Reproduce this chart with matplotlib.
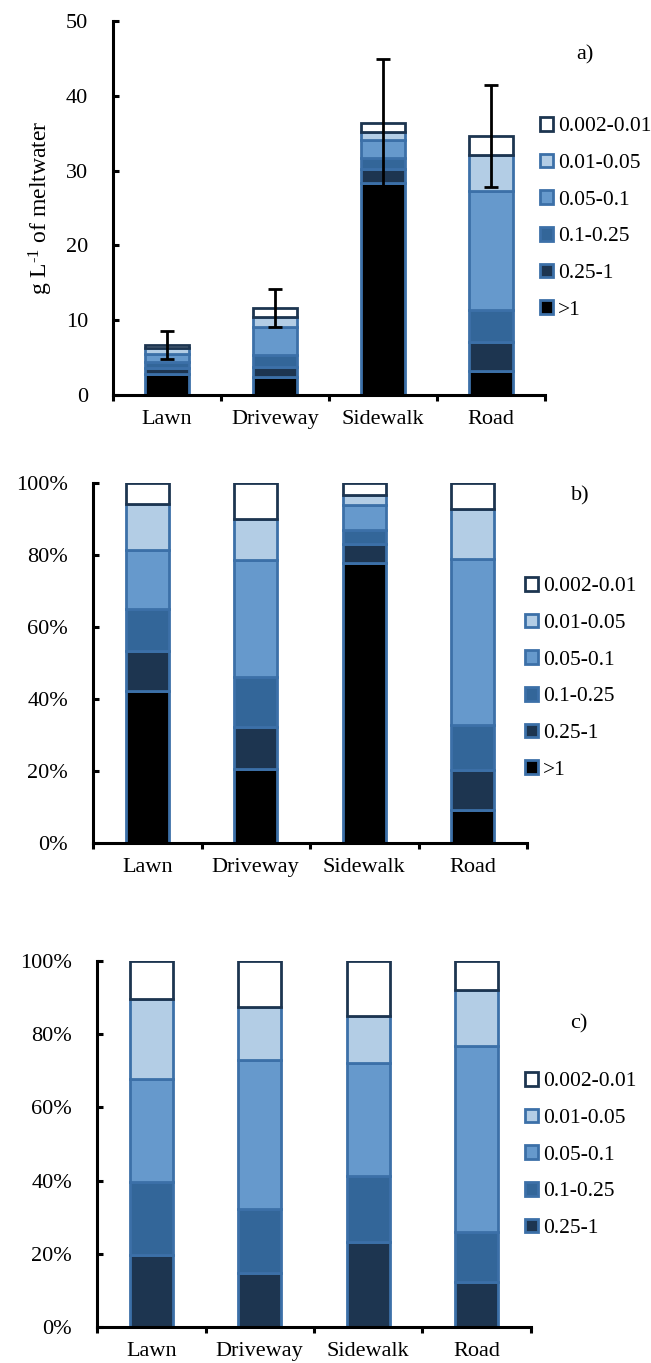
import numpy as np
import matplotlib
matplotlib.use('Agg')
import matplotlib.pyplot as plt
from matplotlib.patches import Patch
from matplotlib.ticker import FuncFormatter

plt.rcParams['font.family'] = ['Liberation Serif', 'DejaVu Serif']
plt.rcParams['mathtext.fontset'] = 'custom'
plt.rcParams['mathtext.rm'] = 'Liberation Serif'
plt.rcParams['mathtext.default'] = 'regular'

sites = ['Lawn', 'Driveway', 'Sidewalk', 'Road']
classes = ['>1', '0.25-1', '0.1-0.25', '0.05-0.1', '0.01-0.05', '0.002-0.01']

# particle size fractions (mm), g/L of meltwater
gt1 = [2.82, 2.39, 28.32, 3.22]
c025_1 = [0.76, 1.35, 1.87, 3.84]
c01_025 = [0.78, 1.61, 1.47, 4.33]
c005_01 = [1.09, 3.76, 2.48, 15.92]
c001_005 = [0.85, 1.33, 1.04, 4.81]
c0002_001 = [0.40, 1.16, 1.22, 2.49]
total_err = [1.87, 2.55, 8.5, 6.85]

fills = ['#000000', '#1d3550', '#336699', '#6699cc', '#b3cde5', '#ffffff']
edges = ['#3c70a8', '#3c70a8', '#3c70a8', '#3c70a8', '#3c70a8', '#1d3550']

W, H = 651, 1363
fig = plt.figure(figsize=(W / 100, H / 100), dpi=100)


def px_axes(left, right, top, bottom):
    return fig.add_axes([left / W, 1 - bottom / H, (right - left) / W, (bottom - top) / H])


def style_axes(ax):
    for s in ['top', 'right']:
        ax.spines[s].set_visible(False)
    for s in ['left', 'bottom']:
        ax.spines[s].set_linewidth(2.2)
    ax.set_xlim(-0.5, 3.5)
    ax.set_xticks(range(4))
    ax.set_xticklabels(sites, fontsize=16)
    ax.tick_params(axis='x', which='major', length=0, pad=11)
    ax.set_xticks(np.arange(-0.5, 4, 1), minor=True)
    ax.tick_params(axis='x', which='minor', direction='out', length=4, width=2.2)
    ax.tick_params(axis='y', direction='in', length=4, width=2.2, labelsize=16, pad=18)


def draw_stack(ax, layer_list, scale, first):
    x = np.arange(4)
    bottom = np.zeros(4)
    for i in range(first, 6):
        vals = np.array(layer_list[i]) / scale
        ax.bar(x, vals, 0.4, bottom=bottom, color=fills[i], edgecolor=edges[i],
               linewidth=2, zorder=2)
        bottom += vals
    return bottom


def legend(x, y, skip):
    handles = [Patch(facecolor=fills[i], edgecolor=edges[i], linewidth=2) for i in range(skip, 6)]
    labels = classes[skip:]
    fig.legend(handles[::-1], labels[::-1], loc='upper left', bbox_to_anchor=(x / W, 1 - y / H),
               frameon=False, fontsize=15.5, handlelength=0.6, handleheight=0.6,
               handletextpad=0.25, labelspacing=0.8, borderpad=0, borderaxespad=0)


layers = [gt1, c025_1, c01_025, c005_01, c001_005, c0002_001]
totals = np.sum(layers, axis=0)
x = np.arange(4)

# a) concentrations
ax_a = px_axes(113, 545, 21, 395)
style_axes(ax_a)
draw_stack(ax_a, layers, 1.0, 0)
ax_a.errorbar(x, totals, yerr=total_err, fmt='none', ecolor='black', elinewidth=2,
              capsize=5, capthick=2, zorder=3)
ax_a.set_ylim(0, 50)
ax_a.set_yticks(range(0, 51, 10))
ax_a.set_ylabel(r'g L$^{\text{-1}}$ of meltwater', fontsize=17, labelpad=8)
fig.text(585 / W, 1 - 55 / H, 'a)', fontsize=16, ha='center', va='center')
legend(540, 117, 0)

pct = FuncFormatter(lambda v, p: '{:.0f}%'.format(v * 100))

# b) share of each fraction
ax_b = px_axes(93, 527, 483, 843)
style_axes(ax_b)
draw_stack(ax_b, layers, totals, 0)
ax_b.set_ylim(0, 1)
ax_b.set_yticks(np.arange(0, 1.01, 0.2))
ax_b.yaxis.set_major_formatter(pct)
fig.text(580 / W, 1 - 496 / H, 'b)', fontsize=16, ha='center', va='center')
legend(525, 577, 0)

# c) share without the >1 mm fraction
ax_c = px_axes(97, 531, 961, 1327)
style_axes(ax_c)
draw_stack(ax_c, layers, totals - np.array(gt1), 1)
ax_c.set_ylim(0, 1)
ax_c.set_yticks(np.arange(0, 1.01, 0.2))
ax_c.yaxis.set_major_formatter(pct)
fig.text(579 / W, 1 - 1024 / H, 'c)', fontsize=16, ha='center', va='center')
legend(525, 1072, 1)

fig.savefig('out.png', dpi=100)
